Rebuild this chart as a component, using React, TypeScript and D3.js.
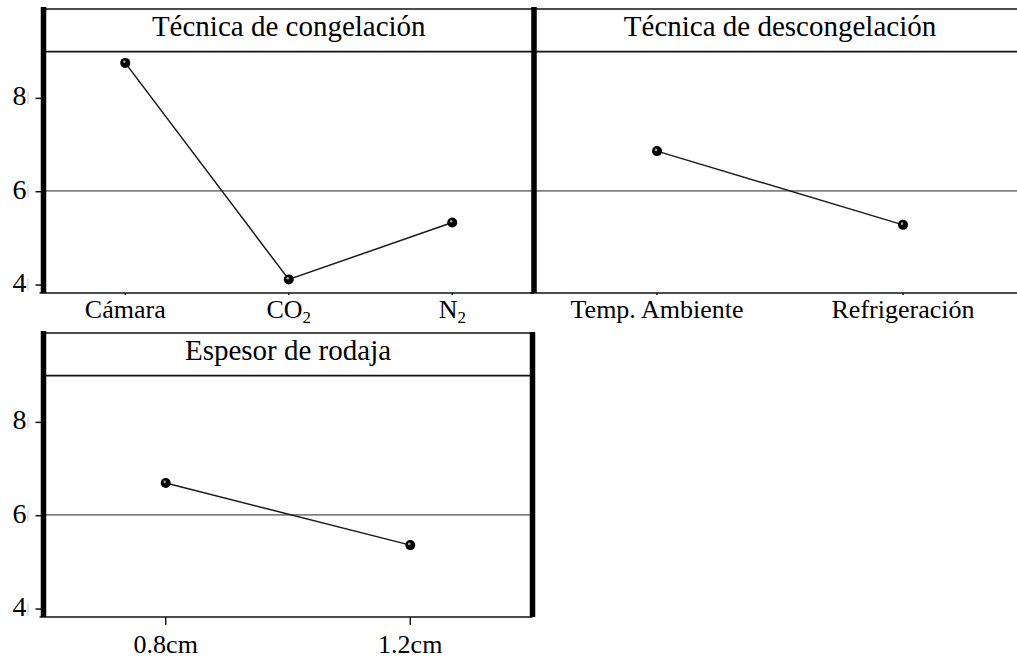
import React from "react";
import * as d3 from "d3";

// ---- data ----
const panelTitles = ["Técnica de congelación", "Técnica de descongelación", "Espesor de rodaja"];
const congelacionLevels = ["Cámara", "CO_2", "N_2"];
const congelacionMeans = [8.76, 4.12, 5.34];
const descongelacionLevels = ["Temp. Ambiente", "Refrigeración"];
const descongelacionMeans = [6.87, 5.29];
const espesorLevels = ["0.8cm", "1.2cm"];
const espesorMeans = [6.7, 5.37];
const grandMean = 6.02;
const yTicks = [4, 6, 8];
const yDomain = [3.83, 9.0];

const FONT = "'Liberation Serif', 'Times New Roman', serif";

type PanelDef = {
  title: string;
  levels: string[];
  means: number[];
  x0: number;
  x1: number;
  top: number;
  leftThick: boolean;
  rightThick: boolean;
  yAxis: boolean;
  tickLen: number;
  labelDy: number;
};

const panels: PanelDef[] = [
  { title: panelTitles[0], levels: congelacionLevels, means: congelacionMeans, x0: 43.5, x1: 534, top: 9, leftThick: true, rightThick: false, yAxis: true, tickLen: 2, labelDy: 25 },
  { title: panelTitles[1], levels: descongelacionLevels, means: descongelacionMeans, x0: 534, x1: 1026, top: 9, leftThick: true, rightThick: false, yAxis: false, tickLen: 2, labelDy: 25 },
  { title: panelTitles[2], levels: espesorLevels, means: espesorMeans, x0: 43.5, x1: 532.5, top: 333, leftThick: true, rightThick: true, yAxis: true, tickLen: 8, labelDy: 36 },
];

function Label({ text, x, y, size }: { text: string; x: number; y: number; size: number }) {
  const parts = text.split("_");
  return (
    <text x={x} y={y} textAnchor="middle" fontFamily={FONT} fontSize={size} fill="#000">
      <tspan>{parts[0]}</tspan>
      {parts[1] !== undefined && (
        <tspan fontSize={size * 0.65} dy={5}>{parts[1]}</tspan>
      )}
    </text>
  );
}

function Panel({ p }: { p: PanelDef }) {
  const titleBottom = p.top + 42.7;
  const plotBottom = p.top + 284;
  const y = d3.scaleLinear().domain(yDomain).range([plotBottom, titleBottom]);
  const x = d3.scalePoint<string>().domain(p.levels).range([p.x0, p.x1]).padding(0.5);
  const pts: [number, number][] = p.levels.map((l, i) => [x(l) as number, y(p.means[i])]);
  const line = d3.line<[number, number]>()(pts) || "";
  const lineStroke = "#111";
  return (
    <g>
      {/* grand mean */}
      <line x1={p.x0} x2={p.x1} y1={y(grandMean)} y2={y(grandMean)} stroke="#808080" strokeWidth={1.8} />
      {/* frame lines */}
      <line x1={p.x0 - 2} x2={p.x1} y1={p.top} y2={p.top} stroke={lineStroke} strokeWidth={1.7} />
      <line x1={p.x0 - 2} x2={p.x1} y1={titleBottom} y2={titleBottom} stroke={lineStroke} strokeWidth={1.7} />
      <line x1={p.x0 - 4} x2={p.x1} y1={plotBottom} y2={plotBottom} stroke={lineStroke} strokeWidth={1.7} />
      {/* title */}
      <text x={(p.x0 + p.x1) / 2} y={p.top + 27} textAnchor="middle" fontFamily={FONT} fontSize={29} fill="#000">
        {p.title}
      </text>
      {/* x ticks and labels */}
      {p.levels.map((l) => (
        <g key={l}>
          <line x1={x(l)} x2={x(l)} y1={plotBottom} y2={plotBottom + p.tickLen} stroke={lineStroke} strokeWidth={1.4} />
          <Label text={l} x={x(l) as number} y={plotBottom + p.labelDy} size={26} />
        </g>
      ))}
      {/* y axis */}
      {p.yAxis &&
        yTicks.map((t) => (
          <g key={t}>
            <line x1={p.x0 - 8} x2={p.x0} y1={y(t)} y2={y(t)} stroke={lineStroke} strokeWidth={1.5} />
            <line x1={p.x0 - 15.5} x2={p.x0 - 15.5} y1={y(t) - 6} y2={y(t) + 6} stroke="#c8c8c8" strokeWidth={1} />
            <text x={p.x0 - 17} y={y(t) + 7} textAnchor="end" fontFamily={FONT} fontSize={28} fill="#000">
              {t}
            </text>
          </g>
        ))}
      {/* data line */}
      <path d={line} fill="none" stroke="#1a1a1a" strokeWidth={1.5} />
      {pts.map((pt, i) => (
        <g key={i}>
          <circle cx={pt[0]} cy={pt[1]} r={5} fill="#000" />
          <circle cx={pt[0] - 1} cy={pt[1] - 1.2} r={1.3} fill="#a0a0a0" />
        </g>
      ))}
      {/* thick borders */}
      {p.leftThick && (
        <line x1={p.x0} x2={p.x0} y1={p.top - 2} y2={plotBottom} stroke="#000" strokeWidth={5.5} />
      )}
      {p.rightThick && (
        <line x1={p.x1} x2={p.x1} y1={p.top - 1} y2={plotBottom} stroke="#000" strokeWidth={5.5} />
      )}
    </g>
  );
}

export default function App() {
  return (
    <div style={{ position: "fixed", left: 0, top: 0, width: 1017, height: 660, background: "#fff" }}>
      <svg width={1017} height={660} style={{ display: "block" }}>
        <rect x={0} y={0} width={1017} height={660} fill="#fff" />
        {panels.map((p, i) => (
          <Panel key={i} p={p} />
        ))}
      </svg>
    </div>
  );
}
